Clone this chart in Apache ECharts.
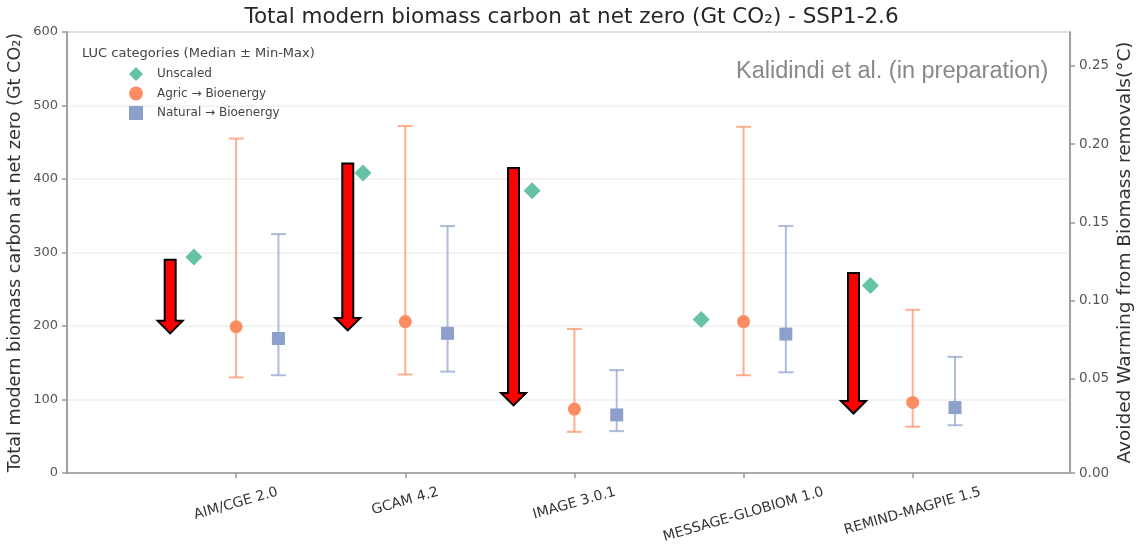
<!DOCTYPE html>
<html>
<head>
<meta charset="utf-8">
<script src="https://cdn.jsdelivr.net/npm/echarts@6/dist/echarts.min.js"></script>
<style>
  html, body { margin: 0; padding: 0; background: #fff; }
  #chart { width: 1143px; height: 546px; }
</style>
</head>
<body>
<div id="chart"></div>
<script>
// ---- data ----
const models = ['AIM/CGE 2.0', 'GCAM 4.2', 'IMAGE 3.0.1', 'MESSAGE-GLOBIOM 1.0', 'REMIND-MAGPIE 1.5'];
const unscaled   = [294, 408, 384, 209, 255];
const agricMed   = [199, 206, 87, 206, 96];
const agricMin   = [130, 134, 56, 133, 63];
const agricMax   = [455, 472, 196, 471, 222];
const naturalMed = [183, 190, 79, 189, 89];
const naturalMin = [133, 138, 57, 137, 65];
const naturalMax = [325, 336, 140, 336, 158];
// red annotation arrows (x in category units, from/to in Gt CO2)
const arrowX    = [-0.39, 0.66, 1.64, 3.65];
const arrowFrom = [290, 421, 415, 272];
const arrowTo   = [190, 194, 92, 81];
// tick values
const leftTicks  = [0, 100, 200, 300, 400, 500, 600];
const rightTicks = [0.05, 0.10, 0.15, 0.20, 0.25];

const GREEN = '#66c2a5', ORANGE = '#fc8d62', BLUE = '#8da0cb';
const OFF = 0.25;
const FONT = 'DejaVu Sans';

// x-label layout: rotated labels centred on ticks (matplotlib style)
const ROT = 16, XFS = 14, XH = 15;
const cvs = document.createElement('canvas').getContext('2d');
cvs.font = XFS + 'px "' + FONT + '"';
const th = ROT * Math.PI / 180;
const rich = {};
models.forEach((m, i) => {
  const w = cvs.measureText(m).width;
  const yc = w / 2 * Math.sin(th) + XH / 2 * Math.cos(th);
  const d = yc * Math.cos(th);
  const P = Math.max(0, d - XH / 2);
  const Q = 2 * d * Math.tan(th);
  rich['m' + i] = { fontFamily: FONT, fontSize: XFS, color: '#333', padding: [P, Q, 0, 0] };
});

const rightMin = -0.0101, rightMax = 0.2717;

const chart = echarts.init(document.getElementById('chart'), null, { renderer: 'canvas' });

function errRender(color) {
  return function (params, api) {
    const x = api.value(0), lo = api.value(1), hi = api.value(2);
    const p1 = api.coord([x, lo]), p2 = api.coord([x, hi]);
    const cap = 7.5;
    const st = { stroke: color, lineWidth: 2, opacity: 0.7 };
    return { type: 'group', children: [
      { type: 'line', shape: { x1: p1[0], y1: p1[1], x2: p2[0], y2: p2[1] }, style: st },
      { type: 'line', shape: { x1: p1[0] - cap, y1: p1[1], x2: p1[0] + cap, y2: p1[1] }, style: st },
      { type: 'line', shape: { x1: p2[0] - cap, y1: p2[1], x2: p2[0] + cap, y2: p2[1] }, style: st }
    ] };
  };
}

const option = {
  backgroundColor: '#fff',
  animation: false,
  title: [
    { text: 'Total modern biomass carbon at net zero (Gt CO\u2082) - SSP1-2.6', left: 'center', top: 1,
      textStyle: { fontFamily: FONT, fontSize: 21.5, fontWeight: 'normal', color: '#262626' } },
    { text: 'LUC categories (Median \u00b1 Min-Max)', left: 77, top: 42,
      textStyle: { fontFamily: FONT, fontSize: 13, fontWeight: 'normal', color: '#444' } },
    { text: 'Kalidindi et al. (in preparation)', left: 731, top: 55,
      textStyle: { fontFamily: 'Liberation Sans', fontSize: 23.5, fontWeight: 'normal', color: '#888' } }
  ],
  legend: {
    orient: 'vertical', left: 124, top: 62, itemGap: 5.5, itemWidth: 14, itemHeight: 14,
    data: ['Unscaled', 'Agric \u2192 Bioenergy', 'Natural \u2192 Bioenergy'],
    textStyle: { fontFamily: FONT, fontSize: 12, color: '#444', padding: [0, 0, 0, 9] }
  },
  grid: { left: 67, right: 73, top: 32, bottom: 73, show: true, borderColor: '#999', borderWidth: 1.5,
          outerBoundsMode: 'none', containLabel: false },
  xAxis: {
    type: 'value', min: -1, max: 4.93,
    axisLine: { show: true, onZero: false, lineStyle: { color: '#999', width: 1.5 } },
    splitLine: { show: false },
    axisTick: { show: true, customValues: [0, 1, 2, 3, 4], length: 5, lineStyle: { color: '#999', width: 1.5 } },
    axisLabel: {
      customValues: [0, 1, 2, 3, 4], rotate: ROT, align: 'center', verticalAlign: 'top', margin: 12,
      formatter: v => { const i = Math.round(v); return '{m' + i + '|' + models[i] + '}'; },
      rich: rich
    }
  },
  yAxis: [
    {
      type: 'value', min: 0, max: 600, interval: 100, position: 'left',
      name: 'Total modern biomass carbon at net zero (Gt CO\u2082)', nameLocation: 'middle', nameGap: 43,
      nameMoveOverlap: false,
      nameTextStyle: { fontFamily: FONT, fontSize: 17.6, color: '#333' },
      axisLine: { show: true, onZero: false, lineStyle: { color: '#999', width: 1.5 } },
      axisTick: { show: true, length: 5, lineStyle: { color: '#999', width: 1.5 } },
      axisLabel: { margin: 9, fontFamily: FONT, fontSize: 13, color: '#555' },
      splitLine: { show: true, lineStyle: { color: '#f0f0f0', width: 1.5 } }
    },
    {
      type: 'value', min: rightMin, max: rightMax, position: 'right',
      name: 'Avoided Warming from Biomass removals(\u00b0C)', nameLocation: 'middle', nameGap: 46,
      nameRotate: 90, nameMoveOverlap: false,
      nameTextStyle: { fontFamily: FONT, fontSize: 18.5, color: '#333' },
      axisLine: { show: true, onZero: false, lineStyle: { color: '#999', width: 1.5 } },
      axisTick: { show: true, length: 5, customValues: [rightMin].concat(rightTicks), lineStyle: { color: '#999', width: 1.5 } },
      axisLabel: { margin: 9, fontFamily: FONT, fontSize: 13.5, color: '#555',
        customValues: [rightMin].concat(rightTicks),
        formatter: v => (v < 0.001 ? 0 : v).toFixed(2) },
      splitLine: { show: false }
    }
  ],
  series: [
    { type: 'custom', name: 'agricErr', renderItem: errRender(ORANGE), z: 2,
      encode: { x: 0, y: [1, 2] },
      data: models.map((m, i) => [i, agricMin[i], agricMax[i]]) },
    { type: 'custom', name: 'naturalErr', renderItem: errRender(BLUE), z: 2,
      encode: { x: 0, y: [1, 2] },
      data: models.map((m, i) => [i + OFF, naturalMin[i], naturalMax[i]]) },
    { type: 'scatter', name: 'Unscaled', symbol: 'diamond', symbolSize: 17, z: 3,
      itemStyle: { color: GREEN, opacity: 1 },
      data: models.map((m, i) => [i - OFF, unscaled[i]]) },
    { type: 'scatter', name: 'Agric \u2192 Bioenergy', symbol: 'circle', symbolSize: 13, z: 3,
      itemStyle: { color: ORANGE, opacity: 1 },
      data: models.map((m, i) => [i, agricMed[i]]) },
    { type: 'scatter', name: 'Natural \u2192 Bioenergy', symbol: 'rect', symbolSize: 13, z: 3,
      itemStyle: { color: BLUE, opacity: 1 },
      data: models.map((m, i) => [i + OFF, naturalMed[i]]) },
    { type: 'custom', name: 'arrows', z: 5,
      encode: { x: 0, y: [1, 2] },
      data: arrowX.map((x, i) => [x, arrowFrom[i], arrowTo[i]]),
      renderItem: function (params, api) {
        const a = api.coord([api.value(0), api.value(1)]);
        const b = api.coord([api.value(0), api.value(2)]);
        const cx = a[0], sw = 5.5, hw = 12.5, hl = 12.5;
        const base = b[1] - hl;
        return { type: 'polygon',
          shape: { points: [[cx - sw, a[1]], [cx + sw, a[1]], [cx + sw, base], [cx + hw, base], [cx, b[1]], [cx - hw, base], [cx - sw, base]] },
          style: { fill: '#ff0000', stroke: '#000', lineWidth: 2, lineJoin: 'miter' } };
      } }
  ]
};
chart.setOption(option);
</script>
</body>
</html>
